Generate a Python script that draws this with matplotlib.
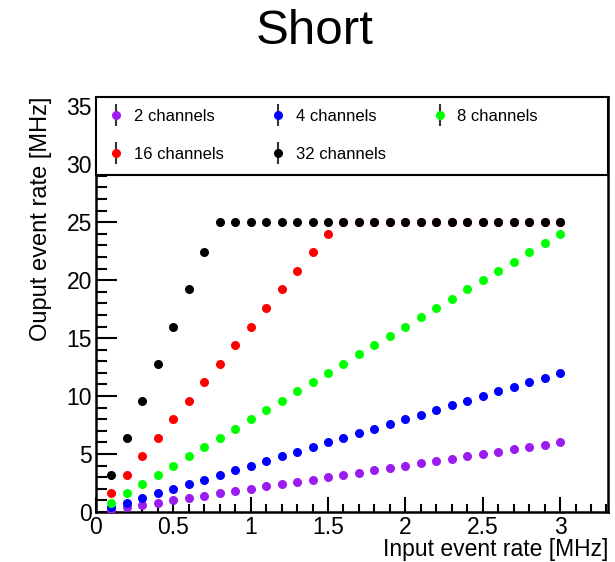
import matplotlib
matplotlib.use("Agg")
import matplotlib.pyplot as plt
from matplotlib.ticker import MultipleLocator, FuncFormatter
from matplotlib.patches import Rectangle
from matplotlib.container import ErrorbarContainer
from matplotlib.legend_handler import HandlerErrorbar

plt.rcParams['font.family'] = ['Liberation Sans', 'DejaVu Sans']

x = [0.1, 0.2, 0.3, 0.4, 0.5, 0.6, 0.7, 0.8, 0.9, 1.0,
     1.1, 1.2, 1.3, 1.4, 1.5, 1.6, 1.7, 1.8, 1.9, 2.0,
     2.1, 2.2, 2.3, 2.4, 2.5, 2.6, 2.7, 2.8, 2.9, 3.0]

ch2 = [0.2, 0.4, 0.6, 0.8, 1.0, 1.2, 1.4, 1.6, 1.8, 2.0,
       2.2, 2.4, 2.6, 2.8, 3.0, 3.2, 3.4, 3.6, 3.8, 4.0,
       4.2, 4.4, 4.6, 4.8, 5.0, 5.2, 5.4, 5.6, 5.8, 6.0]
ch4 = [0.4, 0.8, 1.2, 1.6, 2.0, 2.4, 2.8, 3.2, 3.6, 4.0,
       4.4, 4.8, 5.2, 5.6, 6.0, 6.4, 6.8, 7.2, 7.6, 8.0,
       8.4, 8.8, 9.2, 9.6, 10.0, 10.4, 10.8, 11.2, 11.6, 12.0]
ch8 = [0.8, 1.6, 2.4, 3.2, 4.0, 4.8, 5.6, 6.4, 7.2, 8.0,
       8.8, 9.6, 10.4, 11.2, 12.0, 12.8, 13.6, 14.4, 15.2, 16.0,
       16.8, 17.6, 18.4, 19.2, 20.0, 20.8, 21.6, 22.4, 23.2, 24.0]
ch16 = [1.6, 3.2, 4.8, 6.4, 8.0, 9.6, 11.2, 12.8, 14.4, 16.0,
        17.6, 19.2, 20.8, 22.4, 24.0, 25.0, 25.0, 25.0, 25.0, 25.0,
        25.0, 25.0, 25.0, 25.0, 25.0, 25.0, 25.0, 25.0, 25.0, 25.0]
ch32 = [3.2, 6.4, 9.6, 12.8, 16.0, 19.2, 22.4, 25.0, 25.0, 25.0,
        25.0, 25.0, 25.0, 25.0, 25.0, 25.0, 25.0, 25.0, 25.0, 25.0,
        25.0, 25.0, 25.0, 25.0, 25.0, 25.0, 25.0, 25.0, 25.0, 25.0]

labels = ["2 channels", "4 channels", "8 channels", "16 channels", "32 channels"]
values = [ch2, ch4, ch8, ch16, ch32]
colors = ["#9a1cf0", "#0000ff", "#00ff00", "#ff0000", "#000000"]

YMAX = 35.8
LEG_BOTTOM = 29.1

fig = plt.figure(figsize=(6.15, 5.62), dpi=100)
ax = fig.add_axes([96/615, 1-512/562, (608-96)/615, (512-97)/562])

handles = {}
for label, vals, col in zip(labels, values, colors):
    h = ax.errorbar(x, vals, yerr=[0]*len(x), fmt='o', color=col, ecolor='#333333',
                    elinewidth=1.5, markersize=6.5, markeredgewidth=0, label=label, zorder=3)
    handles[label] = h

ax.set_xlim(0, 3.31)
ax.set_ylim(0, YMAX)
ax.xaxis.set_major_locator(MultipleLocator(0.5))
ax.xaxis.set_minor_locator(MultipleLocator(0.1))
ax.yaxis.set_major_locator(MultipleLocator(5))
ax.yaxis.set_minor_locator(MultipleLocator(1))
ax.tick_params(axis='both', which='both', direction='in', top=False, right=False,
               labelsize=16.5, width=1.5)
ax.tick_params(axis='y', which='major', length=15, pad=3)
ax.tick_params(axis='y', which='minor', length=8)
ax.tick_params(axis='x', which='major', length=11, pad=3)
ax.tick_params(axis='x', which='minor', length=6)
ax.xaxis.set_major_formatter(FuncFormatter(lambda v, p: f"{v:g}"))
for s in ax.spines.values():
    s.set_linewidth(1.8)

ax.set_xlabel("Input event rate [MHz]", fontsize=16.5, loc='right')
ax.set_ylabel("Ouput event rate [MHz]", fontsize=17, loc='top')
ax.xaxis.set_label_coords(1.0, -0.063)
ax.yaxis.set_label_coords(-0.086, 1.0)

# legend box covering top part of the frame
ax.add_patch(Rectangle((0, LEG_BOTTOM / YMAX), 1, 1 - LEG_BOTTOM / YMAX,
                       transform=ax.transAxes, facecolor='white', edgecolor='black',
                       linewidth=1.5, zorder=4, clip_on=False))

order = ["2 channels", "16 channels", "4 channels", "32 channels", "8 channels"]
leg = ax.legend([handles[k] for k in order], order, ncol=3, frameon=False,
                loc='upper left', bbox_to_anchor=(0.027, 0.972),
                borderaxespad=0, borderpad=0,
                fontsize=12, handlelength=0.8, handletextpad=0.65, labelspacing=1.4,
                columnspacing=2.85,
                handler_map={ErrorbarContainer: HandlerErrorbar(yerr_size=0.65)})
leg.set_zorder(5)

fig.text(0.512, 0.944, "Short", ha='center', va='center', fontsize=35.5)

fig.savefig("out.png", dpi=100)
